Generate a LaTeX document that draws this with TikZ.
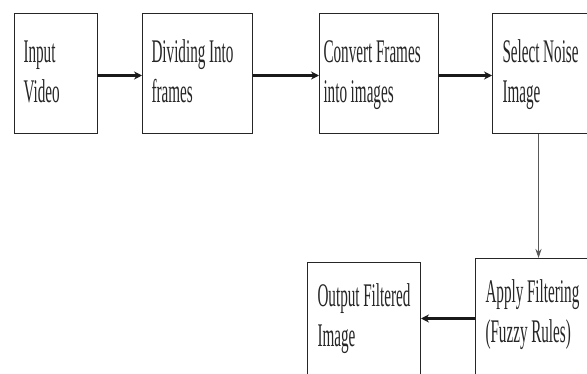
\documentclass[tikz,border=0pt]{standalone}
\usepackage{fontspec}
\newfontfamily\boxfont[FakeStretch=0.46]{Liberation Serif}
\usetikzlibrary{arrows.meta,calc}
\newcommand\myboxsetup{\boxfont\fontsize{33}{40}\selectfont}
\tikzset{
  box/.style={draw=black!85, line width=1pt, rectangle, anchor=north west,
    inner ysep=0pt, inner xsep=9pt, align=left,
    font=\myboxsetup, execute at begin node={\spaceskip=3.6pt\relax}, text=black!85},
  topbox/.style={box, text height=49pt, text depth=71pt},
  thickarrow/.style={line width=2.2pt, black!90, -{Stealth[length=8pt,width=8pt]}},
  thinarrow/.style={line width=0.9pt, black!65, -{Stealth[length=9pt,width=6pt]}}
}
\begin{document}
\begin{tikzpicture}[x=1pt,y=-1pt]
\useasboundingbox (0,0) rectangle (587,374);
\clip (0,0) rectangle (587,374);
\fill[white] (0,0) rectangle (587,374);
\node[topbox, text width=65pt] (in) at (14,13) {Input\\Video};
\node[topbox, text width=92pt] (div) at (142,13) {Dividing Into\\frames};
\node[topbox, inner xsep=4pt, text width=111pt] (conv) at (319,13) {Convert Frames\\into images};
\node[topbox, inner xsep=10pt, text width=88pt] (sel) at (492,13) {Select Noise\\Image};
\node[box, inner xsep=10pt, text width=105pt, text height=44pt, text depth=86pt] (apply) at (475,258) {Apply Filtering\\(Fuzzy Rules)};
\node[box, inner xsep=10pt, text width=93pt, text height=44pt, text depth=82pt] (out) at (307,262) {Output Filtered\\Image};
\draw[thickarrow] ([yshift=-2pt]in.east) -- ([yshift=-2pt]div.west);
\draw[thickarrow] ([yshift=-2pt]div.east) -- ([yshift=-2pt]conv.west);
\draw[thickarrow] ([yshift=-2pt]conv.east) -- ([yshift=-2pt]sel.west);
\draw[thinarrow] ([xshift=-8pt]sel.south) -- ([xshift=-8pt]sel.south |- apply.north);
\draw[thickarrow] ([yshift=5pt]apply.west) -- ([yshift=5pt]apply.west -| out.east);
\end{tikzpicture}
\end{document}
